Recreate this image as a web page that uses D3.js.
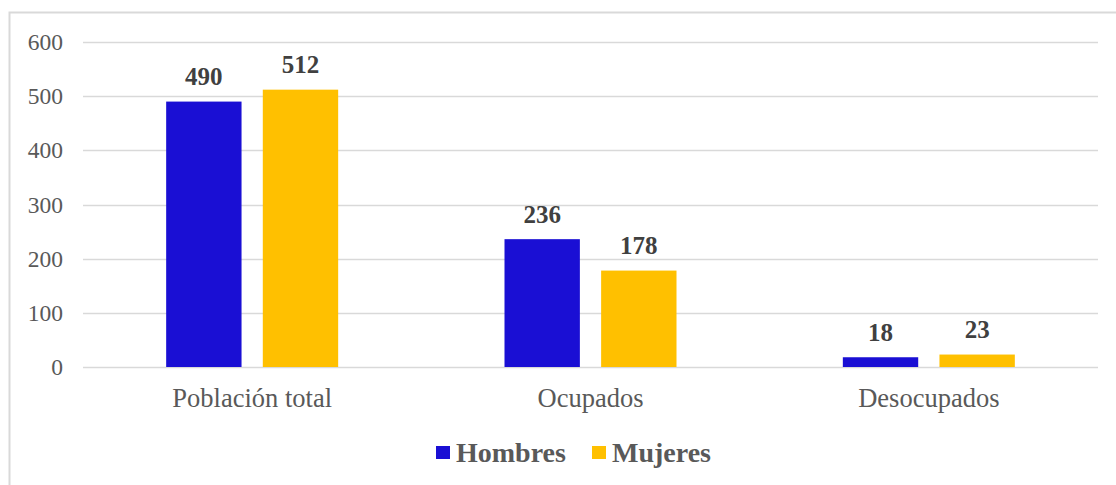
<!DOCTYPE html>
<html>
<head>
<meta charset="utf-8">
<script src="https://cdn.jsdelivr.net/npm/d3@7"></script>
<style>
  body { margin: 0; background: #fff; }
  svg text { font-family: "Liberation Serif", "DejaVu Serif", serif; }
</style>
</head>
<body>
<div id="chart"></div>
<script>
// data
var categories = ['Población total', 'Ocupados', 'Desocupados'];
var seriesNames = ['Hombres', 'Mujeres'];
var hombres = [490, 236, 18];
var mujeres = [512, 178, 23];
var yTicks = [0, 100, 200, 300, 400, 500, 600];
var colors = ['#1a0fd4', '#ffc000'];

var _width = 1116, _height = 485;
var margin = {left: 83, right: 18, top: 42, bottom: 118};

var svg = d3.select('#chart').append('svg')
  .attr('width', _width)
  .attr('height', _height);

// outer frame (only top and left edges are visible in the picture)
svg.append('path')
  .attr('d', 'M9.5,' + _height + 'V12.5H' + _width)
  .attr('fill', 'none')
  .attr('stroke', '#d9d9d9')
  .attr('stroke-width', 2);

var x0 = d3.scaleBand()
  .domain(categories)
  .range([margin.left, _width - margin.right]);

var y = d3.scaleLinear()
  .domain([0, 600])
  .range([_height - margin.bottom, margin.top]);

// gridlines
svg.append('g').selectAll('line')
  .data(yTicks)
  .enter().append('line')
  .attr('x1', margin.left)
  .attr('x2', _width - margin.right)
  .attr('y1', function(d) { return Math.round(y(d)) + 0.5; })
  .attr('y2', function(d) { return Math.round(y(d)) + 0.5; })
  .attr('stroke', '#d9d9d9')
  .attr('stroke-width', 1.5);

// y axis labels
var yAxis = d3.axisLeft(y).tickValues(yTicks).tickSize(0).tickPadding(0);
svg.append('g')
  .attr('transform', 'translate(63,0)')
  .call(yAxis)
  .call(function(g) { g.select('.domain').remove(); })
  .selectAll('text')
  .style('font-size', '23.5px')
  .attr('fill', '#595959');

// x axis labels
var xAxis = d3.axisBottom(x0).tickSize(0).tickPadding(0);
svg.append('g')
  .attr('transform', 'translate(0,' + y(0) + ')')
  .call(xAxis)
  .call(function(g) { g.select('.domain').remove(); })
  .selectAll('text')
  .attr('dy', null)
  .attr('y', 40)
  .style('font-size', '26.5px')
  .attr('fill', '#595959');

var table = categories.map(function(c, i) {
  return {cat: c, values: [hombres[i], mujeres[i]]};
});

var x1 = d3.scaleBand()
  .domain([0, 1])
  .range([x0.bandwidth() / 2 - 86, x0.bandwidth() / 2 + 86])
  .paddingInner(0.22);

var groups = svg.append('g').selectAll('g')
  .data(table)
  .enter().append('g')
  .attr('transform', function(d) { return 'translate(' + x0(d.cat) + ',0)'; });

groups.selectAll('rect')
  .data(function(d) { return d.values; })
  .enter().append('rect')
  .attr('x', function(d, i) { return x1(i); })
  .attr('width', x1.bandwidth())
  .attr('y', function(d) { return y(d); })
  .attr('height', function(d) { return y(0) - y(d); })
  .attr('fill', function(d, i) { return colors[i]; });

groups.selectAll('text.val')
  .data(function(d) { return d.values; })
  .enter().append('text')
  .attr('class', 'val')
  .attr('x', function(d, i) { return x1(i) + x1.bandwidth() / 2; })
  .attr('y', function(d) { return y(d) - 16.5; })
  .attr('text-anchor', 'middle')
  .style('font-size', '25px')
  .attr('font-weight', 'bold')
  .attr('fill', '#404040')
  .text(function(d) { return d; });

// legend
var legend = svg.append('g').attr('transform', 'translate(436,462)');
var lx = [0, 156];
seriesNames.forEach(function(name, i) {
  var g = legend.append('g').attr('transform', 'translate(' + lx[i] + ',0)');
  g.append('rect')
    .attr('x', 0).attr('y', -16)
    .attr('width', 14).attr('height', 13)
    .attr('fill', colors[i]);
  g.append('text')
    .attr('x', 20).attr('y', 0)
    .style('font-size', '28px')
    .attr('font-weight', 'bold')
    .attr('fill', '#595959')
    .text(name);
});
</script>
</body>
</html>
